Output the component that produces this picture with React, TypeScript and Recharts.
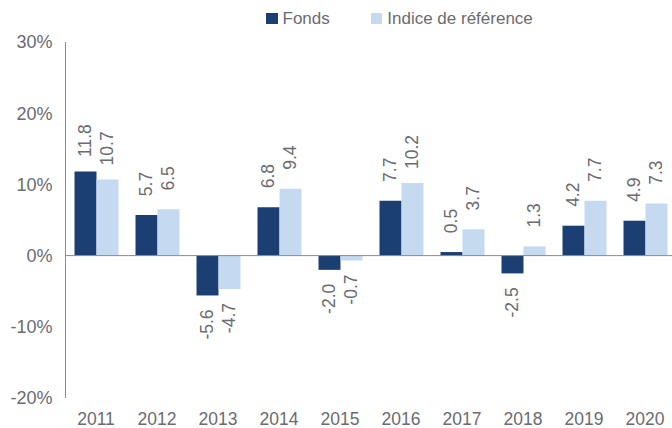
import React from "react";
import { BarChart, Bar, XAxis, YAxis, ReferenceLine, LabelList, Legend } from "recharts";

const years = ["2011", "2012", "2013", "2014", "2015", "2016", "2017", "2018", "2019", "2020"];
const fonds = [11.8, 5.7, -5.6, 6.8, -2.0, 7.7, 0.5, -2.5, 4.2, 4.9];
const indice = [10.7, 6.5, -4.7, 9.4, -0.7, 10.2, 3.7, 1.3, 7.7, 7.3];
const yTicks = [-20, -10, 0, 10, 20, 30];

const seriesNames = { fonds: "Fonds", indice: "Indice de référence" };
const FONDS_COLOR = "#1b3f73";
const INDICE_COLOR = "#c5d9f1";
const TEXT_COLOR = "#6b6b70";
const AXIS_COLOR = "#8c8c8c";
const FONT = "'Liberation Sans', Arial, sans-serif";

const data = years.map((y, i) => ({ year: y, fonds: fonds[i], indice: indice[i] }));

const renderLabel = (props: any) => {
  const { x, y, width, height, value } = props;
  const v = Number(value);
  const nx = Number(x), ny = Number(y), nw = Number(width), nh = Number(height);
  const cx = nx + nw / 2;
  const top = Math.min(ny, ny + nh);
  const bottom = Math.max(ny, ny + nh);
  const ty = v >= 0 ? top - 31 : bottom + 29;
  return (
    <text
      x={cx}
      y={ty}
      transform={`rotate(-90 ${cx} ${ty})`}
      textAnchor="middle"
      dominantBaseline="central"
      fill={TEXT_COLOR}
      fontSize={17.5}
      fontFamily={FONT}
    >
      {v.toFixed(1)}
    </text>
  );
};

const LegendContent = () => (
  <div style={{ display: "flex", alignItems: "center", paddingLeft: 266, fontFamily: FONT, fontSize: 17, color: TEXT_COLOR }}>
    <div style={{ display: "flex", alignItems: "center" }}>
      <span style={{ display: "inline-block", width: 11.5, height: 11.5, background: FONDS_COLOR, marginRight: 5 }} />
      <span>{seriesNames.fonds}</span>
    </div>
    <div style={{ display: "flex", alignItems: "center", marginLeft: 41 }}>
      <span style={{ display: "inline-block", width: 11.5, height: 11.5, background: INDICE_COLOR, marginRight: 5 }} />
      <span>{seriesNames.indice}</span>
    </div>
  </div>
);

export default function App() {
  return (
    <div style={{ position: "absolute", left: 0, top: 0, width: 672, height: 428, background: "#fff" }}>
      <BarChart
        width={672}
        height={428}
        data={data}
        margin={{ top: 42, right: -3.5, bottom: 0, left: 0 }}
        barCategoryGap={9}
        barGap={0}
      >
        <Legend
          verticalAlign="middle"
          layout="horizontal"
          content={<LegendContent />}
          wrapperStyle={{ top: 8.5, left: 0, width: 672 }}
        />
        <XAxis
          dataKey="year"
          axisLine={false}
          tickLine={false}
          tickSize={0}
          tickMargin={15}
          height={30}
          interval={0}
          tick={{ fill: TEXT_COLOR, fontSize: 17.5, fontFamily: FONT }}
        />
        <YAxis
          domain={[-20, 30]}
          ticks={yTicks}
          width={65.5}
          tickLine={false}
          tickSize={0}
          tickMargin={13}
          axisLine={{ stroke: AXIS_COLOR, strokeWidth: 1 }}
          tickFormatter={(v: number) => `${v}%`}
          tick={{ fill: TEXT_COLOR, fontSize: 18, fontFamily: FONT }}
          allowDataOverflow
        />
        <ReferenceLine y={0} stroke={AXIS_COLOR} strokeWidth={1} />
        <Bar dataKey="fonds" name={seriesNames.fonds} fill={FONDS_COLOR} isAnimationActive={false}>
          <LabelList dataKey="fonds" content={renderLabel} />
        </Bar>
        <Bar dataKey="indice" name={seriesNames.indice} fill={INDICE_COLOR} isAnimationActive={false}>
          <LabelList dataKey="indice" content={renderLabel} />
        </Bar>
      </BarChart>
    </div>
  );
}
